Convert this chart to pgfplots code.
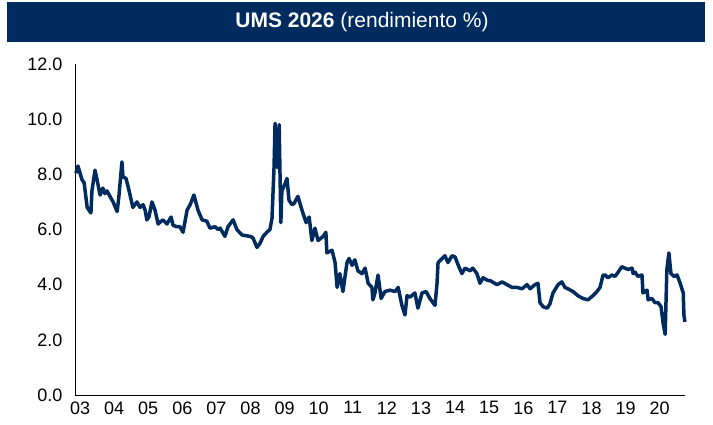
\documentclass[border=0pt]{standalone}
\usepackage{pgfplots}
\pgfplotsset{compat=1.18}
\usepackage{fontspec}
\setmainfont{Liberation Sans}
\definecolor{navy}{RGB}{0,43,94}
\begin{document}
\begin{tikzpicture}
\useasboundingbox (0pt,0pt) rectangle (713pt,425pt);
\fill[navy] (7pt,383pt) rectangle (705pt,423pt);
\node[text=white,font=\fontsize{21}{24}\selectfont] at (362pt,403pt) {\textbf{UMS 2026} (rendimiento \%)};
\begin{axis}[at={(75pt,30pt)},anchor=south west,scale only axis,
  width=610pt,height=331pt,
  xmin=2002.853,xmax=2020.742,ymin=0,ymax=12,
  axis x line=bottom, axis y line=left,
  axis line style={-,black,line width=0.8pt},
  xtick={2003,2004,2005,2006,2007,2008,2009,2010,2011,2012,2013,2014,2015,2016,2017,2018,2019,2020},
  xticklabels={03,04,05,06,07,08,09,10,11,12,13,14,15,16,17,18,19,20},
  ytick={0,2,4,6,8,10,12},
  /pgf/number format/assume math mode=true,
  yticklabel style={/pgf/number format/fixed,/pgf/number format/fixed zerofill,/pgf/number format/precision=1,xshift=-9pt},
  major tick length=0pt,
  tick label style={font=\fontsize{18}{20}\selectfont},
  xticklabel style={yshift=-3pt},
  clip=false]
\addplot[navy,line width=3.5pt,line join=round] coordinates {
(2002.88,8.04)(2002.94,8.30)(2003.06,7.80)(2003.12,7.70)(2003.21,6.80)(2003.32,6.60)
(2003.35,7.40)(2003.44,8.15)(2003.50,7.80)(2003.59,7.25)(2003.67,7.50)(2003.73,7.30)
(2003.79,7.40)(2003.88,7.20)(2003.97,7.00)(2004.09,6.65)(2004.14,7.20)(2004.23,8.45)
(2004.26,7.90)(2004.35,7.85)(2004.44,7.40)(2004.55,6.80)(2004.67,7.00)(2004.76,6.80)
(2004.85,6.90)(2004.91,6.70)(2004.96,6.35)(2005.02,6.45)(2005.11,7.00)(2005.20,6.70)
(2005.29,6.20)(2005.43,6.35)(2005.55,6.20)(2005.67,6.45)(2005.73,6.15)(2005.84,6.10)
(2005.93,6.10)(2006.02,5.90)(2006.14,6.70)(2006.23,6.90)(2006.34,7.25)(2006.46,6.70)
(2006.58,6.35)(2006.72,6.30)(2006.81,6.05)(2006.96,6.10)(2007.05,6.00)(2007.11,6.05)
(2007.25,5.75)(2007.34,6.10)(2007.49,6.35)(2007.60,6.00)(2007.75,5.80)(2007.99,5.75)
(2008.07,5.70)(2008.19,5.35)(2008.28,5.50)(2008.37,5.75)(2008.48,5.90)(2008.57,6.00)
(2008.63,6.40)(2008.69,8.25)(2008.72,9.85)(2008.78,8.25)(2008.84,9.80)(2008.89,6.25)
(2008.92,7.40)(2009.01,7.65)(2009.07,7.85)(2009.13,7.05)(2009.22,6.90)(2009.28,6.95)
(2009.39,7.20)(2009.51,6.70)(2009.63,6.25)(2009.72,6.45)(2009.80,5.60)(2009.89,6.05)
(2009.98,5.60)(2010.13,5.75)(2010.21,5.90)(2010.24,5.15)(2010.39,5.25)(2010.48,4.80)
(2010.54,3.90)(2010.62,4.40)(2010.71,3.75)(2010.83,4.80)(2010.89,4.95)(2010.98,4.70)
(2011.06,4.90)(2011.15,4.50)(2011.27,4.40)(2011.36,4.60)(2011.45,4.05)(2011.56,3.90)
(2011.59,3.45)(2011.65,3.70)(2011.74,4.35)(2011.83,3.50)(2011.94,3.75)(2012.09,3.80)
(2012.24,3.75)(2012.33,3.90)(2012.44,3.25)(2012.53,2.90)(2012.59,3.60)(2012.68,3.55)
(2012.82,3.70)(2012.91,3.15)(2013.03,3.70)(2013.15,3.75)(2013.26,3.50)(2013.41,3.25)
(2013.47,4.05)(2013.50,4.80)(2013.62,4.95)(2013.70,5.05)(2013.79,4.80)(2013.91,5.05)
(2014.00,5.00)(2014.11,4.65)(2014.20,4.40)(2014.29,4.60)(2014.44,4.50)(2014.52,4.60)
(2014.64,4.40)(2014.73,4.05)(2014.82,4.25)(2014.96,4.15)(2015.02,4.15)(2015.23,4.00)
(2015.38,4.10)(2015.52,4.00)(2015.67,3.90)(2015.82,3.90)(2015.96,3.85)(2016.11,4.00)
(2016.20,3.85)(2016.34,4.00)(2016.43,4.05)(2016.49,3.35)(2016.58,3.20)(2016.70,3.15)
(2016.78,3.30)(2016.87,3.70)(2017.02,4.00)(2017.13,4.10)(2017.22,3.90)(2017.31,3.85)
(2017.46,3.75)(2017.60,3.60)(2017.75,3.50)(2017.90,3.45)(2018.04,3.60)(2018.16,3.75)
(2018.25,3.90)(2018.34,4.35)(2018.40,4.35)(2018.48,4.25)(2018.60,4.35)(2018.69,4.30)
(2018.78,4.45)(2018.89,4.65)(2018.98,4.60)(2019.07,4.55)(2019.19,4.60)(2019.22,4.40)
(2019.28,4.45)(2019.36,4.30)(2019.48,4.35)(2019.51,3.70)(2019.63,3.80)(2019.66,3.45)
(2019.77,3.50)(2019.86,3.35)(2019.95,3.35)(2020.04,3.20)(2020.10,2.60)(2020.16,2.20)
(2020.21,4.55)(2020.27,5.15)(2020.33,4.40)(2020.42,4.30)(2020.51,4.35)(2020.60,4.05)
(2020.69,3.70)(2020.71,2.90)(2020.74,2.65)
};
\end{axis}
\end{tikzpicture}
\end{document}
